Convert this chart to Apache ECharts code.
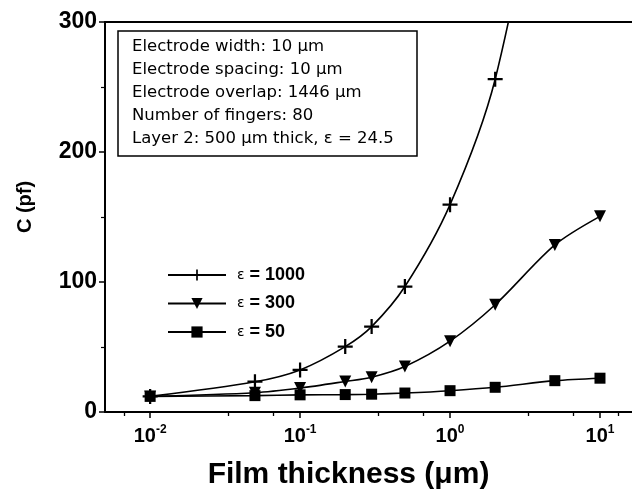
<!DOCTYPE html>
<html>
<head>
<meta charset="utf-8">
<script src="https://cdn.jsdelivr.net/npm/echarts@6/dist/echarts.min.js"></script>
<style>
html,body{margin:0;padding:0;background:#fff;}
#chart{width:632px;height:498px;}
</style>
</head>
<body>
<div id="chart"></div>
<script>
// ---- data ----
var thickness = [0.01, 0.05, 0.1, 0.2, 0.3, 0.5, 1, 2, 5, 10];
var eps1000 = [12, 23.3, 32.4, 50.3, 65.7, 96.5, 159.5, 256, 480, null];
var eps300  = [12, 14.8, 18.4, 23.5, 26.8, 35, 54.5, 82.5, 128.5, 150.5];
var eps50   = [12, 12.6, 13.2, 13.4, 13.7, 14.6, 16.4, 19, 24.1, 26];
var seriesNames = ['ε = 1000', 'ε = 300', 'ε = 50'];
var xMajorTicks = [0.01, 0.1, 1, 10];
var xMinorTicks = [0.00667, 0.0333, 0.0667, 0.333, 0.667, 3.33, 6.67, 13.3];
var yTicks = [0, 100, 200, 300];
var infoLines = [
  'Electrode width: 10 μm',
  'Electrode spacing: 10 μm',
  'Electrode overlap: 1446 μm',
  'Number of fingers: 80',
  'Layer 2: 500 μm thick, ε = 24.5'
];

function pairs(vals) {
  return thickness.map(function (x, i) { return [x, vals[i]]; })
    .filter(function (p) { return p[1] !== null; });
}

var plusPath = 'path://M-1.2,-8 H1.2 V-1.2 H8 V1.2 H1.2 V8 H-1.2 V1.2 H-8 V-1.2 H-1.2 Z';
var triPath = 'path://M0,0 L12,0 L6,11 Z';

function mkSeries(name, vals, symbol, size) {
  return {
    name: name,
    type: 'line',
    xAxisIndex: 0,
    data: pairs(vals),
    smooth: 0.3,
    symbol: symbol,
    symbolSize: size,
    showAllSymbol: true,
    lineStyle: { color: '#000', width: 1.6 },
    itemStyle: { color: '#000', borderColor: '#000', borderWidth: 0 },
    clip: true,
    z: 3
  };
}

var xMin = 0.005, xMax = 16.35;

var chart = echarts.init(document.getElementById('chart'), null, { renderer: 'canvas' });
chart.setOption({
  animation: false,
  backgroundColor: '#fff',
  grid: { left: 105, top: 22, right: 0, height: 390, show: false },
  title: {
    text: infoLines.join('\n'),
    left: 118, top: 31,
    padding: [4, 24, 6, 14],
    borderColor: '#000', borderWidth: 1.5,
    textStyle: {
      fontFamily: 'DejaVu Sans', fontSize: 16.5, fontWeight: 'normal',
      lineHeight: 23, color: '#000'
    }
  },
  legend: {
    orient: 'vertical',
    left: 162, top: 261,
    itemWidth: 58, itemHeight: 14, itemGap: 10.5,
    data: seriesNames,
    formatter: function (n) {
      return '{e|ε}{t|' + n.replace('ε', '') + '}';
    },
    textStyle: {
      padding: [0, 0, 0, 6],
      rich: {
        e: { fontFamily: 'DejaVu Sans', fontSize: 14, lineHeight: 14, color: '#000' },
        t: { fontFamily: 'Liberation Sans', fontSize: 18, lineHeight: 14, fontWeight: 'bold', color: '#000' }
      }
    }
  },
  xAxis: [{
    type: 'log',
    min: xMin, max: xMax,
    position: 'bottom',
    name: 'Film thickness (μm)',
    nameLocation: 'middle',
    nameGap: 48,
    nameTextStyle: { fontFamily: 'Liberation Sans', fontSize: 30, fontWeight: 'bold', color: '#000', padding: [0, 40, 0, 0] },
    axisLine: { show: true, lineStyle: { color: '#000', width: 2 } },
    axisTick: { show: true, inside: false, length: 6, customValues: xMajorTicks, lineStyle: { color: '#000', width: 1.5 } },
    minorTick: { show: false },
    splitLine: { show: false },
    axisLabel: {
      margin: 12,
      customValues: xMajorTicks,
      formatter: function (v) {
        var e = Math.round(Math.log10(v));
        return '{b|10}{s|' + e + '}';
      },
      rich: {
        b: { fontFamily: 'Liberation Sans', fontSize: 20, fontWeight: 'bold', color: '#000' },
        s: { fontFamily: 'Liberation Sans', fontSize: 12, fontWeight: 'bold', color: '#000', padding: [0, 0, 12, 0] }
      }
    }
  }, {
    type: 'log',
    min: xMin, max: xMax,
    position: 'bottom',
    axisLine: { show: false },
    axisTick: { show: true, inside: false, length: 4, customValues: xMinorTicks, lineStyle: { color: '#000', width: 1.3 } },
    axisLabel: { show: false },
    splitLine: { show: false }
  }, {
    type: 'log',
    min: xMin, max: xMax,
    position: 'top',
    axisLine: { show: true, lineStyle: { color: '#000', width: 2 } },
    axisTick: { show: false },
    axisLabel: { show: false },
    splitLine: { show: false }
  }],
  yAxis: {
    type: 'value',
    min: 0, max: 300, interval: 100,
    name: 'C (pf)',
    nameLocation: 'middle',
    nameGap: 70,
    nameRotate: 90,
    nameTextStyle: { fontFamily: 'Liberation Sans', fontSize: 20, fontWeight: 'bold', color: '#000', padding: [0, 0, 0, 20] },
    axisLine: { show: true, lineStyle: { color: '#000', width: 2 } },
    axisTick: { show: true, inside: false, length: 6, lineStyle: { color: '#000', width: 1.5 } },
    minorTick: { show: true, splitNumber: 2, length: 4, lineStyle: { color: '#000', width: 1.2 } },
    splitLine: { show: false },
    axisLabel: {
      margin: 8,
      fontFamily: 'Liberation Sans', fontSize: 23, fontWeight: 'bold', color: '#000',
      formatter: function (v) { return yTicks.indexOf(v) >= 0 ? String(v) : ''; }
    }
  },
  series: [
    mkSeries(seriesNames[0], eps1000, plusPath, 15),
    mkSeries(seriesNames[1], eps300, triPath, 12),
    mkSeries(seriesNames[2], eps50, 'rect', 11)
  ]
});
</script>
</body>
</html>
